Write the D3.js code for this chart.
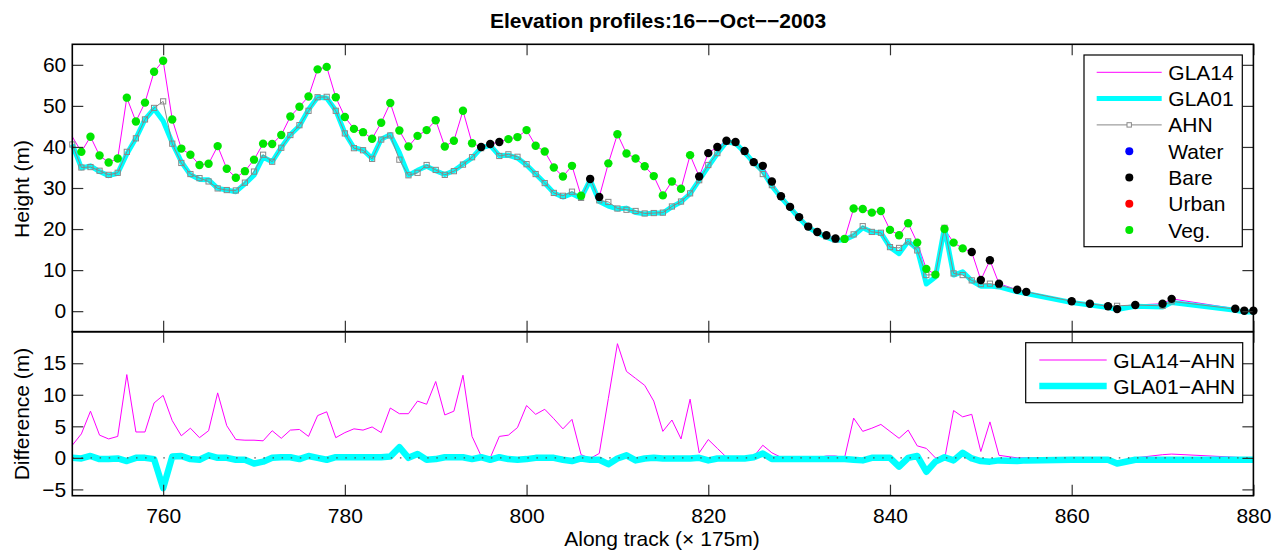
<!DOCTYPE html>
<html>
<head>
<meta charset="utf-8">
<script src="https://cdn.jsdelivr.net/npm/d3@7"></script>
<style>
body { margin: 0; background: #fff; }
text { font-family: "Liberation Sans", Arial, Helvetica, sans-serif; }
</style>
</head>
<body>
<div class="chart"></div>
<script>
// along-track index (x 175m)
var track = [
  750,751,752,753,754,755,756,757,758,759,
  760,761,762,763,764,765,766,767,768,769,
  770,771,772,773,774,775,776,777,778,779,
  780,781,782,783,784,785,786,787,788,789,
  790,791,792,793,794,795,796,797,798,799,
  800,801,802,803,804,805,806,807,808,809,
  810,811,812,813,814,815,816,817,818,819,
  820,821,822,823,824,825,826,827,828,829,
  830,831,832,833,834,835,836,837,838,839,
  840,841,842,843,844,845,846,847,848,849,
  850,851,852,854,855,860,862,864,865,867,
  870,871,878,879,880];

var gla14 = [
  42.5,38.8,42.5,37.9,36.2,37.2,52.0,46.2,50.8,58.3,
  61.0,46.7,39.6,38.1,35.6,35.9,40.2,34.7,32.5,34.1,
  36.9,40.8,40.7,42.9,47.4,49.8,52.3,58.9,59.5,52.1,
  47.3,44.4,43.6,42.0,45.9,50.7,44.0,40.1,42.7,44.1,
  46.5,40.1,41.5,48.8,40.9,40.0,40.7,41.2,41.9,42.4,
  44.1,40.3,38.9,35.0,32.8,35.4,28.1,32.2,27.8,36.0,
  43.1,38.4,37.2,35.3,32.9,28.2,31.6,29.8,38.0,32.8,
  38.5,40.0,41.5,41.2,39.0,36.3,35.4,31.6,28.0,25.4,
  22.9,20.6,19.3,18.5,17.7,17.6,25.0,24.9,24.0,24.4,
  19.8,18.5,21.4,16.7,10.3,8.9,20.0,16.7,15.3,14.4,
  7.6,12.4,6.7,5.2,4.7,2.4,1.8,1.2,0.5,1.5,
  1.8,3.0,0.6,0.1,0.1];

var gla01 = [
  40.6,34.9,35.4,34.0,33.0,33.6,38.3,42.1,46.7,49.3,
  46.3,41.0,36.4,33.2,32.1,32.0,29.9,29.5,29.1,31.0,
  33.1,37.5,36.4,39.9,43.0,45.1,49.1,52.1,51.9,48.9,
  43.4,39.8,39.3,37.2,41.9,43.0,38.6,33.1,34.3,35.3,
  34.2,33.3,34.2,35.8,37.3,39.8,40.4,37.9,38.0,37.3,
  35.6,33.4,31.2,28.8,27.8,28.6,27.5,32.0,26.7,25.6,
  24.9,25.1,24.0,23.7,23.9,23.9,25.4,26.6,28.6,31.9,
  35.2,38.4,41.2,40.9,38.7,36.2,34.1,30.5,27.7,25.2,
  22.7,20.4,19.1,18.0,17.2,17.4,18.4,20.3,19.3,19.1,
  15.6,14.0,17.0,15.1,6.6,8.3,20.4,8.8,9.6,7.4,
  6.1,6.1,5.9,4.7,4.3,2.1,1.5,0.9,0.4,1.2,
  1.0,2.1,0.2,-0.2,-0.2];

var ahn = [
  40.6,35.0,35.1,34.2,33.2,33.7,38.8,42.1,46.7,49.5,
  51.1,40.8,36.1,33.4,32.4,31.6,29.9,29.5,29.4,31.3,
  34.0,38.1,36.4,39.8,42.9,45.3,48.8,52.1,52.2,48.8,
  43.3,39.7,39.2,37.1,41.8,42.8,36.9,33.1,33.7,35.6,
  34.4,33.2,34.1,35.7,37.5,39.7,40.7,37.8,38.2,37.6,
  35.8,33.4,31.2,28.8,28.1,29.1,27.6,32.3,27.0,26.6,
  25.0,24.7,24.4,23.8,23.9,24.0,25.5,26.7,28.7,31.9,
  35.6,38.5,41.3,41.0,38.8,36.1,33.4,30.7,27.9,25.4,
  22.9,20.6,19.3,18.2,17.4,17.6,18.7,20.7,19.3,19.1,
  15.6,15.4,17.0,14.8,8.8,8.9,20.3,9.2,8.8,7.5,
  6.6,6.7,6.3,5.2,4.7,2.4,1.8,1.2,1.3,1.5,
  1.3,2.4,0.5,0.1,0.1];

// GLA14-AHN and GLA01-AHN
var diff14 = [
  2.0,3.8,7.4,3.6,3.0,3.4,13.2,4.1,4.1,8.7,
  9.9,5.9,3.5,4.7,3.2,4.3,10.3,5.1,2.9,2.8,
  2.8,2.7,4.3,3.1,4.4,4.5,3.4,6.7,7.3,3.2,
  4.0,4.6,4.4,4.9,4.0,7.9,7.0,7.0,9.0,8.5,
  12.1,6.8,7.4,13.1,3.4,0.3,0.0,3.4,3.6,4.8,
  8.3,6.9,7.7,6.2,4.6,6.1,0.5,-0.1,0.7,9.4,
  18.1,13.7,12.6,11.5,9.0,4.2,6.0,3.0,9.3,0.8,
  2.9,1.5,0.1,0.2,0.2,0.2,2.0,0.8,0.1,0.0,
  0.0,0.0,0.0,0.3,0.3,0.0,6.3,4.2,4.7,5.3,
  4.2,3.1,4.4,1.9,1.5,0.0,-0.3,7.5,6.5,6.9,
  1.0,5.7,0.4,0.0,0.0,0.0,0.0,0.0,-0.8,0.0,
  0.5,0.6,0.1,0.0,0.0];

var diff01 = [
  0.0,-0.1,0.3,-0.2,-0.2,-0.1,-0.5,0.0,0.0,-0.2,
  -4.8,0.2,0.3,-0.2,-0.3,0.4,0.0,0.0,-0.3,-0.3,
  -0.9,-0.6,0.0,0.1,0.1,-0.2,0.3,0.0,-0.3,0.1,
  0.1,0.1,0.1,0.1,0.1,0.2,1.7,0.0,0.6,-0.3,
  -0.2,0.1,0.1,0.1,-0.2,0.1,-0.3,0.1,-0.2,-0.3,
  -0.2,0.0,0.0,0.0,-0.3,-0.5,-0.1,-0.3,-0.3,-1.0,
  -0.1,0.4,-0.4,-0.1,0.0,-0.1,-0.1,-0.1,-0.1,0.0,
  -0.4,-0.1,-0.1,-0.1,-0.1,0.1,0.7,-0.2,-0.2,-0.2,
  -0.2,-0.2,-0.2,-0.2,-0.2,-0.2,-0.3,-0.4,0.0,0.0,
  0.0,-1.4,0.0,0.3,-2.2,-0.6,0.1,-0.4,0.8,-0.1,
  -0.5,-0.6,-0.4,-0.5,-0.4,-0.3,-0.3,-0.3,-0.9,-0.3,
  -0.3,-0.3,-0.3,-0.3,-0.3];

// surface class of each GLA14 shot: W water, B bare, U urban, V vegetation
var surface = [
  '', 'V','V','V','V','V','V','V','V','V',
  'V','V','V','V','V','V','V','V','V','V',
  'V','V','V','V','V','V','V','V','V','V',
  'V','V','V','V','V','V','V','V','V','V',
  'V','V','V','V','V','B','B','B','V','V',
  'V','V','V','V','V','V','V','B','B','V',
  'V','V','V','V','V','V','V','V','V','B',
  'B','B','B','B','B','B','B','B','B','B',
  'B','B','B','B','B','V','V','V','V','V',
  'V','V','V','V','V','V','V','V','V','B',
  'B','B','B','B','B','B','B','B','B','B',
  'B','B','B','B','B'];

var classNames = ['Water', 'Bare', 'Urban', 'Veg.'];
var classCodes = ['W', 'B', 'U', 'V'];
var classColors = ['#0000ff', '#000000', '#ff0000', '#00e600'];

var xTicks = [760, 780, 800, 820, 840, 860, 880];
var topTicks = [0, 10, 20, 30, 40, 50, 60];
var botTicks = [-5, 0, 5, 10, 15];

var width = 1272, height = 552;
var left = 72.3, right = 1253.4;
var topY = 44.3, midY = 331.7, botY = 495.7;

var svg = d3.select('.chart')
  .append('svg')
    .attr('width', width)
    .attr('height', height);

var x = d3.scaleLinear().domain([750, 880]).range([left, right]);
var yTop = d3.scaleLinear().domain([-5, 65]).range([midY, topY]);
var yBot = d3.scaleLinear().domain([-6, 20]).range([botY, midY]);

var pts = track.map((t, i) => ({
  t: t, g14: gla14[i], g01: gla01[i], ahn: ahn[i],
  d14: diff14[i], d01: diff01[i], s: surface[i]
}));

var colorOf = d3.scaleOrdinal().domain(classCodes).range(classColors);

// ---------- upper panel ----------
var up = svg.append('g');

up.append('path')
  .datum(pts)
  .attr('fill', 'none')
  .attr('stroke', '#ff00ff')
  .attr('stroke-width', 1)
  .attr('d', d3.line().x(d => x(d.t)).y(d => yTop(d.g14)));

up.append('path')
  .datum(pts)
  .attr('fill', 'none')
  .attr('stroke', '#00ffff')
  .attr('stroke-width', 5)
  .attr('stroke-linejoin', 'round')
  .attr('d', d3.line().x(d => x(d.t)).y(d => yTop(d.g01)));

up.append('path')
  .datum(pts)
  .attr('fill', 'none')
  .attr('stroke', '#888')
  .attr('stroke-width', 1)
  .attr('d', d3.line().x(d => x(d.t)).y(d => yTop(d.ahn)));

up.selectAll('rect.ahn')
  .data(pts)
  .enter()
  .append('rect')
    .attr('class', 'ahn')
    .attr('x', d => x(d.t) - 2.6)
    .attr('y', d => yTop(d.ahn) - 2.6)
    .attr('width', 5.2)
    .attr('height', 5.2)
    .attr('fill', 'none')
    .attr('stroke', '#888')
    .attr('stroke-width', 1);

up.selectAll('circle.shot')
  .data(pts.filter(d => d.s))
  .enter()
  .append('circle')
    .attr('class', 'shot')
    .attr('cx', d => x(d.t))
    .attr('cy', d => yTop(d.g14))
    .attr('r', 4.2)
    .attr('fill', d => colorOf(d.s));

// ---------- lower panel ----------
var lo = svg.append('g');

lo.append('path')
  .datum(pts)
  .attr('fill', 'none')
  .attr('stroke', '#ff00ff')
  .attr('stroke-width', 1)
  .attr('d', d3.line().x(d => x(d.t)).y(d => yBot(d.d14)));

lo.append('path')
  .datum(pts)
  .attr('fill', 'none')
  .attr('stroke', '#00ffff')
  .attr('stroke-width', 6.5)
  .attr('stroke-linejoin', 'round')
  .attr('d', d3.line().x(d => x(d.t)).y(d => yBot(d.d01)));

lo.append('line')
  .attr('x1', x(750)).attr('x2', x(880))
  .attr('y1', yBot(0)).attr('y2', yBot(0))
  .attr('stroke', '#555')
  .attr('stroke-width', 1.3)
  .attr('stroke-dasharray', '1.5 7.6');

// ---------- axes ----------
function styleAxis(g) {
  g.select('.domain').remove();
  g.selectAll('.tick line').attr('stroke', '#333').attr('stroke-width', 1.2);
  g.attr('font-family', '"Liberation Sans", Arial, sans-serif')
   .attr('font-size', 21);
  g.selectAll('.tick text').attr('fill', '#000');
}

function frame(y, y0, y1, ticks, showX) {
  var g = svg.append('g');

  g.append('g')
    .attr('transform', `translate(0, ${y1})`)
    .call(d3.axisBottom(x).tickValues(xTicks).tickSizeInner(-11).tickSizeOuter(0)
      .tickFormat(showX ? d3.format('d') : ''))
    .call(styleAxis)
    .selectAll('.tick text').attr('dy', null).attr('y', 27);

  g.append('g')
    .attr('transform', `translate(0, ${y0})`)
    .call(d3.axisTop(x).tickValues(xTicks).tickSizeInner(-11).tickSizeOuter(0).tickFormat(''))
    .call(styleAxis);

  g.append('g')
    .attr('transform', `translate(${left}, 0)`)
    .call(d3.axisLeft(y).tickValues(ticks).tickSizeInner(-11).tickSizeOuter(0).tickPadding(6)
      .tickFormat(d => d < 0 ? '\u2212' + Math.abs(d) : d))
    .call(styleAxis);

  g.append('g')
    .attr('transform', `translate(${right}, 0)`)
    .call(d3.axisRight(y).tickValues(ticks).tickSizeInner(-11).tickSizeOuter(0).tickFormat(''))
    .call(styleAxis);

  g.append('rect')
    .attr('x', left).attr('y', y0)
    .attr('width', right - left).attr('height', y1 - y0)
    .attr('fill', 'none')
    .attr('stroke', '#000')
    .attr('stroke-width', 1.6);
}

frame(yTop, topY, midY, topTicks, false);
frame(yBot, midY, botY, botTicks, true);

// ---------- labels ----------
svg.append('text')
  .attr('x', 658).attr('y', 28)
  .attr('text-anchor', 'middle')
  .attr('font-size', 21)
  .attr('font-weight', 'bold')
  .text('Elevation profiles:16\u2212\u2212Oct\u2212\u22122003');

svg.append('text')
  .attr('transform', 'translate(29, 189) rotate(-90)')
  .attr('text-anchor', 'middle')
  .attr('font-size', 21)
  .text('Height (m)');

svg.append('text')
  .attr('transform', 'translate(29, 414) rotate(-90)')
  .attr('text-anchor', 'middle')
  .attr('font-size', 21)
  .text('Difference (m)');

svg.append('text')
  .attr('x', 662).attr('y', 546)
  .attr('text-anchor', 'middle')
  .attr('font-size', 21)
  .text('Along track (\u00d7 175m)');

// ---------- legends ----------
var lg = svg.append('g');
lg.append('rect')
  .attr('x', 1084).attr('y', 55)
  .attr('width', 158.3).attr('height', 191.7)
  .attr('fill', '#fff').attr('stroke', '#000').attr('stroke-width', 1.2);

var lineItems = [
  {name: 'GLA14', color: '#ff00ff', w: 1},
  {name: 'GLA01', color: '#00ffff', w: 5},
  {name: 'AHN', color: '#888', w: 1}
];
var rowY = i => 72.3 + i * 26.3;

lineItems.forEach((d, i) => {
  lg.append('line')
    .attr('x1', 1096.7).attr('x2', 1161.7)
    .attr('y1', rowY(i)).attr('y2', rowY(i))
    .attr('stroke', d.color).attr('stroke-width', d.w);
  lg.append('text')
    .attr('x', 1168.3).attr('y', rowY(i) + 7.5)
    .attr('font-size', 21)
    .text(d.name);
});
lg.append('rect')
  .attr('x', 1129.2 - 2.2).attr('y', rowY(2) - 2.2)
  .attr('width', 4.4).attr('height', 4.4)
  .attr('fill', '#fff').attr('stroke', '#888');

classNames.forEach((name, i) => {
  lg.append('circle')
    .attr('cx', 1129.3).attr('cy', rowY(i + 3))
    .attr('r', 4)
    .attr('fill', classColors[i]);
  lg.append('text')
    .attr('x', 1168.3).attr('y', rowY(i + 3) + 7.5)
    .attr('font-size', 21)
    .text(name);
});

var lg2 = svg.append('g');
lg2.append('rect')
  .attr('x', 1025.7).attr('y', 342.7)
  .attr('width', 217).attr('height', 60)
  .attr('fill', '#fff').attr('stroke', '#000').attr('stroke-width', 1.2);

var diffItems = [
  {name: 'GLA14\u2212AHN', color: '#ff00ff', w: 1},
  {name: 'GLA01\u2212AHN', color: '#00ffff', w: 6.5}
];
diffItems.forEach((d, i) => {
  var yy = 360 + i * 26;
  lg2.append('line')
    .attr('x1', 1039.3).attr('x2', 1106.7)
    .attr('y1', yy).attr('y2', yy)
    .attr('stroke', d.color).attr('stroke-width', d.w);
  lg2.append('text')
    .attr('x', 1113.3).attr('y', yy + 7.5)
    .attr('font-size', 21)
    .text(d.name);
});
</script>
</body>
</html>
